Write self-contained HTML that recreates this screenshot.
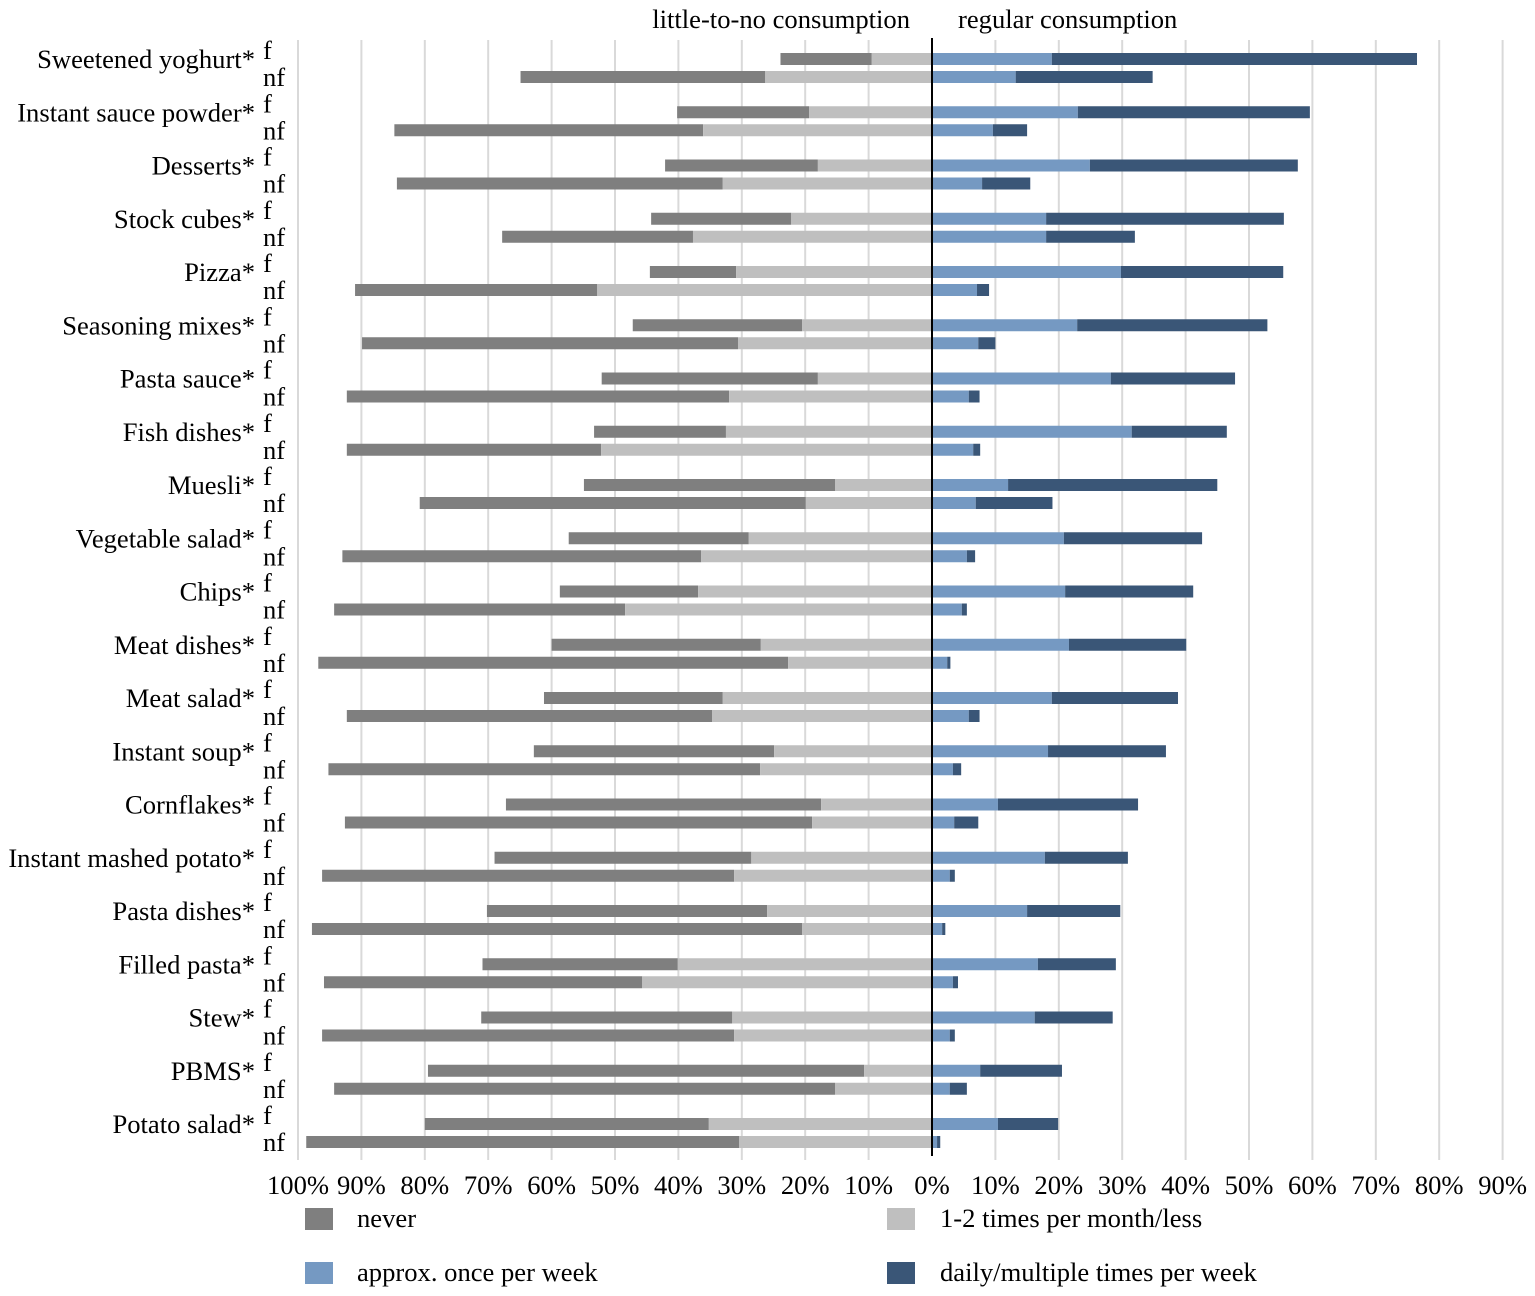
<!DOCTYPE html>
<html><head><meta charset="utf-8"><style>
body{margin:0;background:#fff}
svg{display:block;font-family:"Liberation Serif",serif}
</style></head><body>
<svg id="chart" width="1535" height="1296" viewBox="0 0 1535 1296">
<g id="grid"></g><g id="bars"></g><g id="labels"></g>
<text x="910" y="28" font-size="26.6" text-anchor="end">little-to-no consumption</text>
<text x="958" y="28" font-size="26.6">regular consumption</text>
<g>
<rect x="305" y="1208" width="28" height="22" fill="#7f7f7f"/>
<text x="357" y="1227" font-size="26.6">never</text>
<rect x="887" y="1208" width="28" height="22" fill="#bfbfbf"/>
<text x="940" y="1227" font-size="26.6">1-2 times per month/less</text>
<rect x="305" y="1262" width="28" height="22" fill="#7599c2"/>
<text x="357" y="1281" font-size="26.6">approx. once per week</text>
<rect x="887" y="1262" width="28" height="22" fill="#3a5677"/>
<text x="940" y="1281" font-size="26.6">daily/multiple times per week</text>
</g>
</svg>
<script>
const categories=["Sweetened yoghurt*","Instant sauce powder*","Desserts*","Stock cubes*","Pizza*","Seasoning mixes*","Pasta sauce*","Fish dishes*","Muesli*","Vegetable salad*","Chips*","Meat dishes*","Meat salad*","Instant soup*","Cornflakes*","Instant mashed potato*","Pasta dishes*","Filled pasta*","Stew*","PBMS*","Potato salad*"];
const neverF=[14.4,20.8,24.1,22.1,13.6,26.7,34.1,20.8,39.6,28.4,21.8,33.0,28.2,37.9,49.7,40.5,44.2,30.8,39.6,68.8,44.8];
const rarelyF=[9.5,19.4,18.0,22.2,30.9,20.5,18.0,32.5,15.3,28.9,36.9,27.0,33.0,24.9,17.5,28.5,26.0,40.1,31.5,10.7,35.2];
const weeklyF=[18.9,23.0,24.9,18.0,29.8,22.9,28.2,31.5,12.0,20.8,21.0,21.6,18.9,18.3,10.4,17.8,15.0,16.7,16.2,7.6,10.4];
const dailyF=[57.6,36.6,32.8,37.5,25.6,30.0,19.6,15.0,33.0,21.8,20.2,18.5,19.9,18.6,22.1,13.1,14.7,12.3,12.3,12.9,9.5];
const neverNF=[38.6,48.7,51.4,30.1,38.2,59.3,60.3,40.1,60.9,56.6,45.9,74.1,57.6,68.1,73.7,65.0,77.3,50.2,65.0,79.0,68.3];
const rarelyNF=[26.3,36.1,33.0,37.7,52.8,30.6,32.0,52.2,19.9,36.4,48.4,22.7,34.7,27.1,18.9,31.2,20.5,45.7,31.2,15.3,30.4];
const weeklyNF=[13.2,9.6,7.9,18.0,7.1,7.3,5.8,6.5,6.9,5.5,4.7,2.4,5.8,3.3,3.5,2.8,1.6,3.3,2.8,2.8,0.8];
const dailyNF=[21.6,5.4,7.6,14.0,1.9,2.7,1.7,1.1,12.1,1.3,0.8,0.5,1.7,1.3,3.8,0.8,0.5,0.8,0.8,2.7,0.5];
const tickLabels=["100%","90%","80%","70%","60%","50%","40%","30%","20%","10%","0%","10%","20%","30%","40%","50%","60%","70%","80%","90%"];
const tickValues=[-100,-90,-80,-70,-60,-50,-40,-30,-20,-10,0,10,20,30,40,50,60,70,80,90];

const NS="http://www.w3.org/2000/svg";
const x0=932, pxPer=6.34;
const xs=v=>x0+v*pxPer;
const yRow=(i,s)=>59+i*53.25+s*18;
const colors=["#7f7f7f","#bfbfbf","#7599c2","#3a5677"];
function mk(tag,attrs,parent){const e=document.createElementNS(NS,tag);for(const k in attrs)e.setAttribute(k,attrs[k]);parent.appendChild(e);return e;}
const grid=document.getElementById('grid'),bars=document.getElementById('bars'),labels=document.getElementById('labels');
tickValues.forEach((v,i)=>{
  if(v!==0){const l=mk('line',{x1:xs(v),x2:xs(v),y1:40,y2:1160,stroke:'#d9d9d9','stroke-width':2},grid);
  
  }
  const t=mk('text',{x:xs(v),y:1194,'font-size':26.6,'text-anchor':'middle'},labels);
  t.textContent=tickLabels[i];
  
  
});
categories.forEach((c,i)=>{
  const series=[[neverF[i],rarelyF[i],weeklyF[i],dailyF[i]],[neverNF[i],rarelyNF[i],weeklyNF[i],dailyNF[i]]];
  series.forEach((s,j)=>{
    const y=yRow(i,j)-6;
    const segs=[[-(s[0]+s[1]),-s[1]],[-s[1],0],[0,s[2]],[s[2],s[2]+s[3]]];
    segs.forEach((sg,k)=>{
      const r=mk('rect',{x:xs(sg[0]),y:y,width:Math.max(0,xs(sg[1])-xs(sg[0])),height:12,fill:colors[k]},bars);
      
      
    });
    const g=mk('text',{x:263,y:yRow(i,j)+(j?9:0),'font-size':26.6},labels);
    g.textContent=j?'nf':'f';
    
    
  });
  const t=mk('text',{x:255,y:yRow(i,0)+9,'font-size':26.6,'text-anchor':'end'},labels);
  t.textContent=c;
  
  
});
const z=mk('line',{x1:x0,x2:x0,y1:38,y2:1156,stroke:'#000','stroke-width':2},bars);


</script>
</body></html>
